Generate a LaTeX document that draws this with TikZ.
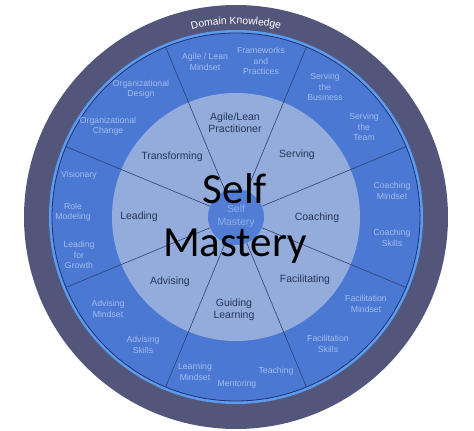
\documentclass[tikz,border=0pt]{standalone}
\usepackage{fontspec}
\setmainfont{Liberation Sans}
\newfontfamily\bigfont{Carlito}
\usepackage{xcolor}
\usepackage{tikz}
\usetikzlibrary{calc}
\usetikzlibrary{decorations.text, positioning}

\definecolor{domainring}{HTML}{52567A}
\definecolor{skillring}{HTML}{4B78D2}
\definecolor{skilledge}{HTML}{5C9CF0}
\definecolor{edgeline}{HTML}{1F3370}
\definecolor{rolefill}{HTML}{93ACDC}
\definecolor{spoke}{HTML}{2E4272}
\definecolor{roletext}{HTML}{26365A}
\definecolor{skilltext}{HTML}{A2BDF0}
\definecolor{coretext}{HTML}{8DAEEA}

\begin{document}
\begin{tikzpicture}[x=1pt,y=1pt,
                    ring label/.style={align=center,text=skilltext,inner sep=0pt,
                                       font=\fontsize{8.7}{10.4}\selectfont},
                    role label/.style={align=center,text=roletext,inner sep=0pt,
                                       font=\fontsize{10.5}{12.4}\selectfont}]

  \useasboundingbox (-236,-214) rectangle (238,217);

  % rings
  \fill[domainring] (0,0) circle (212);
  \fill[skilledge] (0,0) circle (187);
  \fill[skillring] (0,0) circle (184);
  \draw[edgeline,line width=0.8pt] (0,0) circle (184);
  \fill[rolefill] (0,0) circle (124);

  \foreach \a in {22.5,67.5,...,337.5}
    \draw[spoke,line width=0.6pt] (0,0) -- (\a:184);

  \fill[skillring!96!white] (0,0) circle (28);

  \path[decorate,decoration={text along path,text align=center,text color=white,
        text={|\fontsize{10.3}{12}\selectfont|Domain Knowledge}}]
    (160:193) arc (160:20:193);

  % roles
  \node[role label] (practitioner) at (-1,94) {Agile/Lean\\Practitioner};
  \node[role label] (serving) at (61,62) {Serving};
  \node[role label] (coaching) at (81,-1) {Coaching};
  \node[role label] (facilitating) at (69,-63) {Facilitating};
  \node[role label] (guiding) at (-2,-93) {Guiding\\Learning};
  \node[role label] (advising) at (-66,-65) {Advising};
  \node[role label] (leading) at (-97,0) {Leading};
  \node[role label] (transforming) at (-64,60) {Transforming};

  % skills
  \node[ring label] (alm) at (-31,155) {Agile / Lean\\Mindset};
  \node[ring label] (fap) at (25,156) {Frameworks\\and\\Practices};
  \node[ring label] (stb) at (89,130) {Serving\\the\\Business};
  \node[ring label] (stt) at (128,90) {Serving\\the\\Team};
  \node[ring label] (cm) at (156,26) {Coaching\\Mindset};
  \node[ring label] (cs) at (156,-21) {Coaching\\Skills};
  \node[ring label] (fm) at (130,-87) {Facilitation\\Mindset};
  \node[ring label] (fs) at (92,-127) {Facilitation\\Skills};
  \node[ring label] (teach) at (40,-154) {Teaching};
  \node[ring label] (mentor) at (1,-167) {Mentoring};
  \node[ring label] (lm) at (-41,-155) {Learning\\Mindset};
  \node[ring label] (as) at (-93,-128) {Advising\\Skills};
  \node[ring label] (am) at (-128,-92) {Advising\\Mindset};
  \node[ring label] (lfg) at (-157,-38) {Leading\\for\\Growth};
  \node[ring label] (rm) at (-163,5) {Role\\Modeling};
  \node[ring label] (vis) at (-157,42) {Visionary};
  \node[ring label] (oc) at (-128,91) {Organizational\\Change};
  \node[ring label] (od) at (-95,128) {Organizational\\Design};

  % core
  \node[align=center,text=coretext,inner sep=0pt,
        font=\fontsize{10.4}{12.7}\selectfont] (core) at (0,1) {Self\\Mastery};

  \node[anchor=base,inner sep=0pt,font=\bigfont\fontsize{43}{53}\selectfont] (self) at (-1,13) {Self};
  \node[anchor=base,inner sep=0pt,font=\bigfont\fontsize{43}{53}\selectfont] (mastery) at (-1,-40) {Mastery};
\end{tikzpicture}
\end{document}
